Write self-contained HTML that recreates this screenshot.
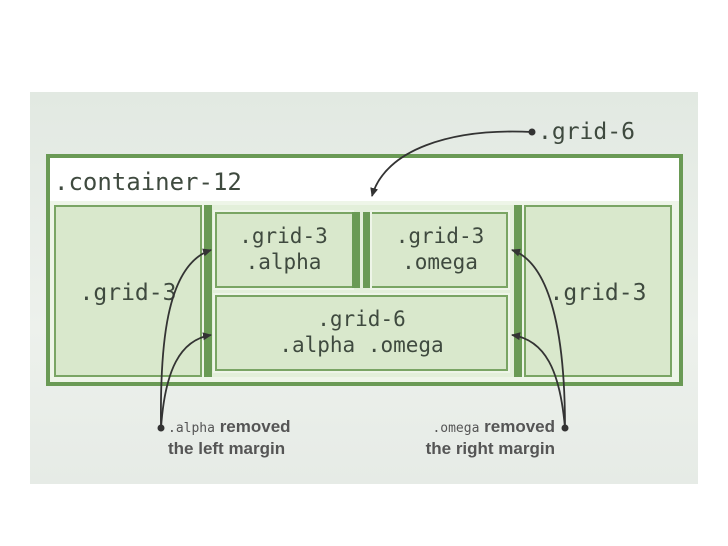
<!DOCTYPE html>
<html><head><meta charset="utf-8"><style>
body{margin:0;width:728px;height:546px;background:#fff;position:relative;overflow:hidden;font-family:"DejaVu Sans Mono","Liberation Mono",monospace;color:#444}
.abs{position:absolute;box-sizing:border-box}
.box{background:#d9e8cc;border:2px solid #7aa564;outline:2px solid #eef5e8}
.t{position:absolute;font-size:21px;color:#3f4a3f;text-align:center;line-height:26px}
</style></head><body>
<div class="abs" style="left:30px;top:92px;width:668px;height:392px;background:linear-gradient(180deg,#e2e9e2,#edf1ec 60%,#e6ebe6)"></div>
<div class="abs" style="left:46px;top:154px;width:637px;height:232px;background:#fff;border:4px solid #6a9a55"></div>
<div class="t" style="left:54px;top:169px;font-size:24px;text-align:left">.container-12</div>
<div class="abs" style="left:50px;top:201px;width:629px;height:181px;background:#eef5e8"></div>
<div class="abs box" style="left:54px;top:205px;width:148px;height:172px"></div>
<div class="abs" style="left:204px;top:205px;width:8px;height:172px;background:#6a9a55"></div>
<div class="abs" style="left:212px;top:205px;width:302px;height:172px;background:#e3efda"></div>
<div class="abs" style="left:514px;top:205px;width:8px;height:172px;background:#6a9a55"></div>
<div class="abs box" style="left:524px;top:205px;width:148px;height:172px"></div>
<div class="abs box" style="left:215px;top:212px;width:137px;height:76px;border-right:none"></div>
<div class="abs" style="left:352px;top:212px;width:8px;height:76px;background:#6a9a55"></div>
<div class="abs" style="left:363px;top:212px;width:9px;height:76px;background:#6a9a55"></div>
<div class="abs box" style="left:372px;top:212px;width:136px;height:76px;border-left:none"></div>
<div class="abs box" style="left:215px;top:295px;width:293px;height:76px"></div>
<div class="t" style="left:215px;top:223px;width:137px">.grid-3<br>.alpha</div>
<div class="t" style="left:372px;top:223px;width:136px">.grid-3<br>.omega</div>
<div class="t" style="left:215px;top:306px;width:293px">.grid-6<br>.alpha .omega</div>
<div class="t" style="left:54px;top:280px;width:148px;font-size:23px">.grid-3</div>
<div class="t" style="left:524px;top:280px;width:148px;font-size:23px">.grid-3</div>
<div class="t" style="left:538px;top:119px;font-size:23px;text-align:left">.grid-6</div>
<div class="t" style="left:168px;top:417px;font-family:'Liberation Sans',sans-serif;font-weight:bold;font-size:17px;color:#555;text-align:left;line-height:20px"><span style="font-family:'DejaVu Sans Mono',monospace;font-weight:normal;font-size:13px">.alpha</span> removed<br>the left margin</div>
<div class="t" style="left:395px;top:417px;width:160px;font-family:'Liberation Sans',sans-serif;font-weight:bold;font-size:17px;color:#555;text-align:right;line-height:20px"><span style="font-family:'DejaVu Sans Mono',monospace;font-weight:normal;font-size:13px">.omega</span> removed<br>the right margin</div>
<svg class="abs" style="left:0;top:0" width="728" height="546">
<defs><marker id="a" markerUnits="userSpaceOnUse" markerWidth="10" markerHeight="10" refX="8" refY="5" orient="auto"><path d="M0,1L9,5L0,9z" fill="#333"/></marker></defs>
<g stroke="#333" stroke-width="1.8" fill="none">
<path d="M532,132 C450,128 385,150 372,196" marker-end="url(#a)"/>
<path d="M161,428 C160,350 165,265 211,250" marker-end="url(#a)"/>
<path d="M161,428 C165,370 180,340 211,335" marker-end="url(#a)"/>
<path d="M565,428 C565,350 555,265 512,250" marker-end="url(#a)"/>
<path d="M565,428 C560,370 545,340 512,335" marker-end="url(#a)"/>
</g>
<circle cx="532" cy="132" r="3.5" fill="#333"/>
<circle cx="161" cy="428" r="3.5" fill="#333"/>
<circle cx="565" cy="428" r="3.5" fill="#333"/>
</svg>
</body></html>
